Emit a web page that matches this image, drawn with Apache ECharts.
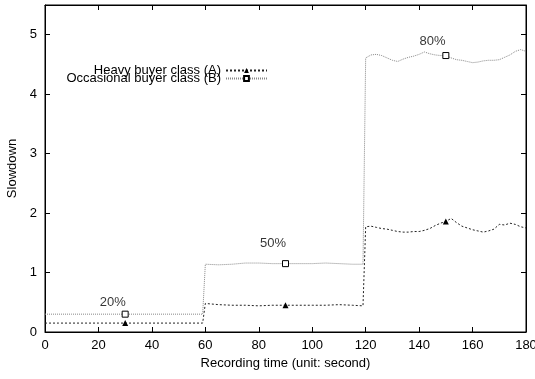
<!DOCTYPE html>
<html><head><meta charset="utf-8">
<script src="https://cdn.jsdelivr.net/npm/echarts@6/dist/echarts.min.js"></script>
<style>html,body{margin:0;padding:0;background:#fff}#c{width:535px;height:379px}</style>
</head><body><div id="c"></div>
<script>
const timeSec = [0,5,10,15,20,25,30,35,40,45,50,55,59,
  60,65,70,75,80,85,90,95,100,105,110,115,119,
  120,122,124,126,128,130,132,134,136,138,140,142,144,146,148,150,152,154,156,158,160,162,164,166,168,170,172,174,176,178,180];
const heavyA = [0.15,0.15,0.15,0.15,0.15,0.15,0.15,0.15,0.15,0.15,0.15,0.15,0.15,
  0.48,0.46,0.45,0.45,0.44,0.45,0.45,0.45,0.45,0.45,0.46,0.45,0.44,
  1.77,1.78,1.76,1.74,1.73,1.71,1.69,1.68,1.68,1.69,1.69,1.71,1.74,1.79,1.83,1.86,1.91,1.84,1.78,1.75,1.72,1.70,1.68,1.70,1.73,1.81,1.80,1.83,1.81,1.77,1.75];
const occasionalB = [0.30,0.30,0.30,0.30,0.30,0.30,0.30,0.30,0.30,0.30,0.30,0.30,0.30,
  1.14,1.13,1.14,1.16,1.16,1.15,1.15,1.15,1.15,1.16,1.15,1.14,1.14,
  4.61,4.66,4.67,4.65,4.61,4.57,4.55,4.59,4.62,4.64,4.67,4.71,4.68,4.66,4.65,4.65,4.61,4.58,4.57,4.55,4.53,4.54,4.56,4.57,4.57,4.58,4.62,4.66,4.72,4.75,4.72];
const markerTimes = [30, 90, 150];
const seriesNames = ['Heavy buyer class (A)', 'Occasional buyer class (B)'];
const noteTexts = ['20%', '50%', '80%'];
const noteX = [25.4, 85.3, 145];
const noteY = [0.50, 1.49, 4.88];
const xLabel = 'Recording time (unit: second)';
const yLabel = 'Slowdown';

const FONT = 'Liberation Sans';
const FS = 13;
const chart = echarts.init(document.getElementById('c'));

function mk(values, sym) {
  return timeSec.map((t, i) => ({ value: [t, values[i]], symbol: markerTimes.includes(t) ? sym : 'none' }));
}
const axisLineStyle = () => ({ show: true, onZero: false, lineStyle: { color: '#000', width: 1 } });
const tick = () => ({ show: true, inside: true, length: 5, lineStyle: { color: '#000', width: 1 } });
const lbl = () => ({ color: '#000', fontFamily: FONT, fontSize: FS });

chart.setOption({
  animation: false,
  backgroundColor: '#fff',
  textStyle: { fontFamily: FONT },
  grid: { left: 45, right: 9, top: 5, bottom: 47, containLabel: false, outerBoundsMode: 'none',
    show: true, borderColor: '#000', borderWidth: 1, backgroundColor: 'transparent' },
  xAxis: [
    { type: 'value', position: 'bottom', min: 0, max: 180, interval: 20,
      axisLine: axisLineStyle(), axisTick: tick(), splitLine: { show: false },
      axisLabel: Object.assign({ margin: 7 }, lbl()),
      name: xLabel, nameLocation: 'middle', nameGap: 25, nameTextStyle: lbl() },
    { type: 'value', position: 'top', min: 0, max: 180, interval: 20,
      axisLine: axisLineStyle(), axisTick: tick(), splitLine: { show: false },
      axisLabel: { show: false } }
  ],
  yAxis: [
    { type: 'value', position: 'left', min: 0, max: 5.5, interval: 1,
      axisLine: axisLineStyle(), axisTick: tick(), splitLine: { show: false },
      axisLabel: Object.assign({ margin: 8, showMaxLabel: false }, lbl()),
      name: yLabel, nameLocation: 'middle', nameGap: 25, nameTextStyle: lbl() },
    { type: 'value', position: 'right', min: 0, max: 5.5, interval: 1,
      axisLine: axisLineStyle(), axisTick: tick(), splitLine: { show: false },
      axisLabel: { show: false } }
  ],
  legend: {
    data: seriesNames, orient: 'vertical', align: 'right', right: 267, top: 64, padding: 0,
    itemGap: -5, itemWidth: 41, itemHeight: 6, textStyle: lbl(), selectedMode: false
  },
  series: [
    { name: seriesNames[0], type: 'line', xAxisIndex: 0, yAxisIndex: 0,
      symbol: 'triangle', symbolSize: 6, showAllSymbol: true,
      lineStyle: { color: '#222', width: 1, type: [2, 2] },
      itemStyle: { color: '#000' },
      data: mk(heavyA, 'triangle') },
    { name: seriesNames[1], type: 'line', xAxisIndex: 1, yAxisIndex: 1,
      symbol: 'rect', symbolSize: 6, showAllSymbol: true,
      lineStyle: { color: '#888', width: 1, type: [1, 1] },
      itemStyle: { color: '#fff', borderColor: '#000', borderWidth: 1 },
      data: mk(occasionalB, 'rect') },
    { name: 'notes', type: 'scatter', xAxisIndex: 0, yAxisIndex: 0, symbolSize: 0, silent: true,
      label: { show: true, position: 'inside', formatter: '{b}', color: '#000', fontFamily: FONT, fontSize: FS },
      data: noteTexts.map((s, i) => ({ name: s, value: [noteX[i], noteY[i]] })) }
  ]
});
</script></body></html>
